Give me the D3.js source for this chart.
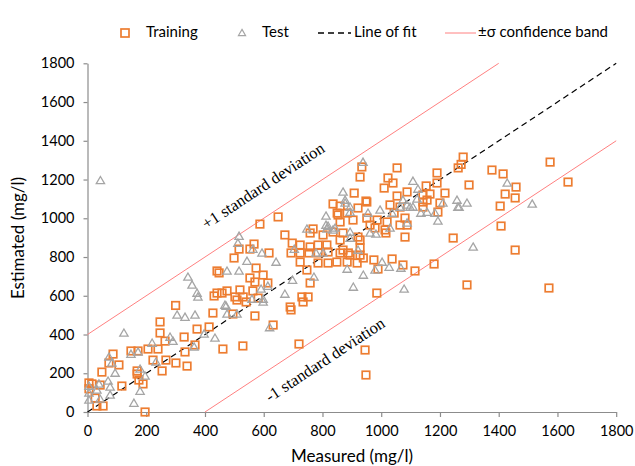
<!DOCTYPE html>
<html><head><meta charset="utf-8">
<script src="https://cdn.jsdelivr.net/npm/d3@7"></script>
<style>body{margin:0;background:#fff} svg{display:block}</style>
</head><body>
<svg id="c" width="635" height="466"></svg>
<script>
// Measured (x), Estimated (y) in mg/l
const training = [
[300,550],[247,465],[247,408],[264,366],[427,511],[495,506],[570,496],[632,449],[414,439],[373,428],[329,387],[366,346],[332,310],[267,268],[301,253],[339,237],[254,212],[223,268],[206,325],[240,325],[172,315],[148,315],[87,299],[107,243],[73,253],[49,206],[461,325],[529,341],[169,212],[169,196],[175,165],[189,145],[117,134],[5,150],[15,145],[43,139],[5,120],[26,72],[53,31],[32,31],[196,0],
[587,970],[567,867],[516,841],[553,841],[499,795],[618,821],[441,728],[448,718],[574,743],[553,692],[598,707],[570,671],[614,666],[475,625],[519,630],[563,625],[441,614],[431,599],[458,614],[502,594],[530,594],[509,578],[540,568],[581,588],
[724,862],[758,852],[785,862],[815,862],[693,821],[724,821],[754,821],[785,821],[819,826],[860,821],[888,821],[928,847],[939,795],[724,774],[747,733],[785,769],[819,769],[849,774],[884,774],[918,769],[975,785],[1037,790],[758,666],[730,594],[751,594],[690,542],[693,527],[985,614],[720,351],[649,1007],[672,914],[697,872],[850,1027],[884,1027],[951,1001],[860,981],
[734,568],[945,320],[948,191],
[1081,903],[1245,898],[989,738],[1074,759],[1115,728],[1180,764],[1292,656],[921,1053],[951,1084],[904,991],[1030,1069],[986,991],[1020,981],[1064,965],[1081,1001],[962,965],[1013,940],[979,950],[870,924],[836,929],[921,903],[928,888],[860,888],[870,836],[894,810],[928,810],[1142,1084],[1193,1032],
[934,1265],[928,1213],[1054,1260],[1023,1208],[1040,1182],[1010,1156],[1190,1234],[1153,1167],[908,1130],[948,1089],[1088,1136],[1054,1115],[1142,1120],[836,1074],[860,1063],[853,1017],[1064,1058],[768,945],[758,924],[802,914],
[1279,1316],[1272,1278],[1262,1260],[1190,1182],[1217,1130],[1299,1172],[1377,1249],[1415,1229],[1459,1161],[1422,1125],[1456,1105],[1405,1063],[1408,960],[1456,836],[1571,640],[1575,1290],[1636,1187],[1200,1079],
[1166,1125],[1044,1027],[1016,924],[1088,965],[1156,1094],[1142,1058]
];
const test = [
[305,501],[332,490],[366,501],[472,547],[475,506],[509,506],[124,408],[220,356],[281,387],[291,366],[363,336],[397,403],[434,382],[148,299],[172,310],[233,258],[196,186],[179,222],[73,284],[83,253],[94,201],[70,160],[77,129],[77,88],[158,46],[179,108],[5,134],[5,98],[32,114],[43,67],[39,145],[5,62],[598,568],[620,436],[44,1195],
[516,908],[512,872],[563,841],[594,821],[642,774],[543,779],[475,728],[516,728],[342,697],[356,656],[373,614],[376,594],[614,650],[591,635],[560,583],[598,583],[468,552],
[704,841],[778,821],[802,821],[884,738],[939,707],[905,645],[771,697],[698,681],[672,609],[1003,774],[979,733],[1027,748],[812,1012],[812,965],[815,945],
[1078,635],
[1067,743],[877,1079],[894,1032],[955,1027],[996,1043],[1037,1027],[1064,1058],[1088,1069],[1108,1058],[1135,1027],[1156,1032],[1183,1027],[1193,986],[1210,1079],[1261,1058],[1292,1079],[843,950],[894,929],[962,924],[982,919],[1030,950],[1088,976],[921,836],
[938,1290],[1108,1192],[1125,1151],[870,1136],[877,1094],[894,1058],[1074,1094],[1122,1100],[1098,1058],[747,945],[819,960],[836,940],[894,898],
[1429,1182],[1514,1074],[1258,1094],[1265,1058],[1313,852]
];
const ticks = [0,200,400,600,800,1000,1200,1400,1600,1800];
const fitLine = [[0,0],[1800,1800]];
const upperBand = [[0,400],[1400,1800]];
const lowerBand = [[400,0],[1800,1400]];
const legendLabels = ["Training","Test","Line of fit","±σ confidence band"];
const bandLabels = ["+1 standard deviation","-1 standard deviation"];
const bandLabelAt = [[601,1161],[812,263]];
const axisTitles = ["Measured (mg/l)","Estimated (mg/l)"];

const ORANGE = "#ED7D31", GREY = "#A5A5A5", RED = "#FF8080", AXIS = "#8C8C8C";
const SANS = "Lato, 'Open Sans', sans-serif";
const svg = d3.select("#c");
const x = d3.scaleLinear().domain([0,1800]).range([87.5,616.2]);
const y = d3.scaleLinear().domain([0,1800]).range([412,63.3]);
const fmt = d3.format("d");

// axes
const gx = svg.append("g").attr("transform",`translate(0,${y(0)})`)
  .call(d3.axisBottom(x).tickValues(ticks).tickFormat(fmt).tickSize(5).tickSizeOuter(0).tickPadding(9));
const gy = svg.append("g").attr("transform",`translate(${x(0)},0)`)
  .call(d3.axisLeft(y).tickValues(ticks).tickFormat(fmt).tickSize(4).tickSizeOuter(0).tickPadding(9));
[gx,gy].forEach(g=>{
  g.selectAll("path,line").attr("stroke",AXIS).attr("stroke-width",1.2);
  g.selectAll("text").attr("font-family",SANS).attr("font-size",14.5).attr("fill","#000");
});

// lines
const line = d3.line().x(d=>x(d[0])).y(d=>y(d[1]));
svg.append("path").datum(upperBand).attr("d",line).attr("stroke",RED).attr("stroke-width",1).attr("fill","none");
svg.append("path").datum(lowerBand).attr("d",line).attr("stroke",RED).attr("stroke-width",1).attr("fill","none");
svg.append("path").datum(fitLine).attr("d",line).attr("stroke","#000").attr("stroke-width",1.2)
  .attr("stroke-dasharray","6,4").attr("fill","none");

// points
const S = 7.5;
svg.append("g").selectAll("rect").data(training).join("rect")
  .attr("x",d=>x(d[0])-S/2).attr("y",d=>y(d[1])-S/2).attr("width",S).attr("height",S)
  .attr("fill","none").attr("stroke",ORANGE).attr("stroke-width",1.7);
const tri = d3.symbol().type(d3.symbolTriangle).size(30);
svg.append("g").selectAll("path").data(test).join("path")
  .attr("d",tri).attr("transform",d=>`translate(${x(d[0])},${y(d[1])+0.8})`)
  .attr("fill","none").attr("stroke",GREY).attr("stroke-width",1.3);

// band labels
const ang = -Math.atan2(y(0)-y(1000), x(1000)-x(0))*180/Math.PI;
svg.append("g").selectAll("text").data(bandLabels).join("text")
  .attr("transform",(d,i)=>`translate(${x(bandLabelAt[i][0])},${y(bandLabelAt[i][1])}) rotate(${ang})`)
  .attr("text-anchor","middle").attr("dominant-baseline","middle")
  .attr("font-family","'Liberation Serif', 'Times New Roman', serif").attr("font-size",16.5)
  .text(d=>d);

// axis titles
svg.append("text").attr("x",352).attr("y",462).attr("text-anchor","middle")
  .attr("font-family",SANS).attr("font-size",17).text(axisTitles[0]);
svg.append("text").attr("transform","translate(24,238) rotate(-90)").attr("text-anchor","middle")
  .attr("font-family",SANS).attr("font-size",17).text(axisTitles[1]);

// legend
const lg = svg.append("g").attr("font-family",SANS).attr("font-size",15);
const ly = 33;
lg.append("rect").attr("x",121).attr("y",ly-4).attr("width",8).attr("height",8)
  .attr("fill","none").attr("stroke",ORANGE).attr("stroke-width",1.7);
lg.append("path").attr("d",d3.symbol().type(d3.symbolTriangle).size(22)())
  .attr("transform",`translate(242,${ly+0.5})`).attr("fill","none").attr("stroke",GREY).attr("stroke-width",1.2);
lg.append("line").attr("x1",318).attr("x2",351).attr("y1",ly).attr("y2",ly)
  .attr("stroke","#000").attr("stroke-width",1.3).attr("stroke-dasharray","6,4");
lg.append("line").attr("x1",445).attr("x2",476).attr("y1",ly).attr("y2",ly)
  .attr("stroke",RED).attr("stroke-width",1);
const lx = [146,262,354,478];
lg.selectAll("text").data(legendLabels).join("text")
  .attr("x",(d,i)=>lx[i]).attr("y",ly).attr("dominant-baseline","middle").text(d=>d);
</script>
</body></html>
